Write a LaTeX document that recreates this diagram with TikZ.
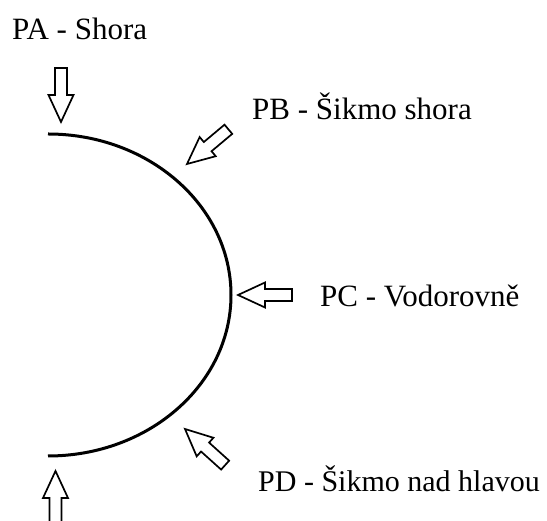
\documentclass[tikz,border=0pt]{standalone}
\usepackage{fontspec}
\setmainfont{Liberation Serif}
\usetikzlibrary{positioning}

\tikzset{
    lbl/.style={anchor=base west, inner sep=0pt, font=\fontsize{31}{37}\selectfont},
    blockarr/.pic={
        \draw[line width=1.7pt, line join=miter, fill=white]
            (0,0) -- (-27,12.5) -- (-27,6) -- (-54,6) -- (-54,-6)
            -- (-27,-6) -- (-27,-12.5) -- cycle;
    }
}

\begin{document}
\begin{tikzpicture}[x=1pt, y=1pt]
    \useasboundingbox (0,0) rectangle (547,521);
    \clip (0,0) rectangle (547,521);

    % half of the head outline
    \coordinate (top) at (48,387);
    \draw[line width=3pt] (top) arc[start angle=90, end angle=-90, x radius=183, y radius=161] coordinate (bot);

    % arrow tips
    \coordinate (tA) at (61,399);
    \coordinate (tB) at (187,357);
    \coordinate (tC) at (238,226);
    \coordinate (tD) at (185,92);
    \coordinate (tE) at (55.5,50);

    \pic[rotate=-90] at (tA) {blockarr};
    \pic[rotate=220] at (tB) {blockarr};
    \pic[rotate=180] at (tC) {blockarr};
    \pic[rotate=138] at (tD) {blockarr};
    \pic[rotate=90]  at (tE) {blockarr};

    % labels
    \node[lbl] (la) at (12,481) {PA - Shora};
    \node[lbl] (lb) at (252,401) {PB - Šikmo shora};
    \node[lbl] (lc) at (320,214) {PC - Vodorovně};
    \node[lbl, font=\fontsize{30}{36}\selectfont] (ld) at (258,29) {PD - Šikmo nad hlavou};
\end{tikzpicture}
\end{document}
